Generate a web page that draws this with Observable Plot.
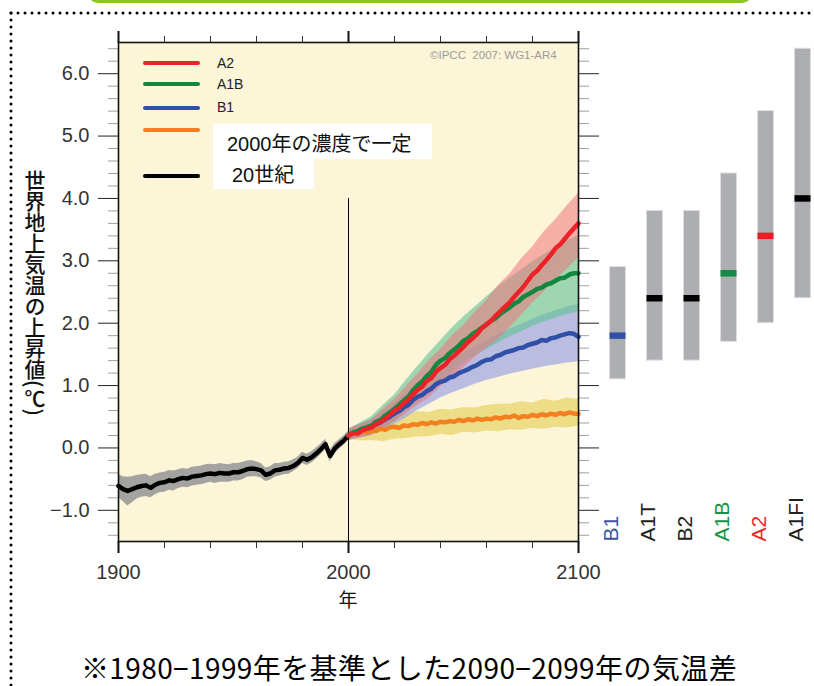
<!DOCTYPE html>
<html>
<head>
<meta charset="utf-8">
<script src="https://cdn.jsdelivr.net/npm/d3@7"></script>
<script src="https://cdn.jsdelivr.net/npm/@observablehq/plot@0.6"></script>
<style>
html, body { margin: 0; padding: 0; background: #fff; overflow: hidden; }
#root { position: relative; width: 814px; height: 686px; overflow: hidden; background: #fff;
  font-family: "Liberation Sans", Arial, "Noto Sans CJK JP", sans-serif; }
.abs { position: absolute; }
.sw { position: absolute; height: 4px; border-radius: 2px; }
.lg { position: absolute; font-size: 14px; line-height: 16px; color: #222; }
</style>
</head>
<body>
<div id="root"></div>
<script>
// ---------- data ----------
// 20th century (2-year steps): mean and spread
const years20 = d3.range(1900, 2001, 2);
const mean20 = [-0.61,-0.66,-0.69,-0.66,-0.63,-0.61,-0.60,-0.64,-0.59,-0.56,-0.55,-0.52,-0.53,-0.50,-0.48,-0.49,-0.46,-0.45,-0.44,-0.42,-0.41,-0.42,-0.40,-0.41,-0.41,-0.39,-0.39,-0.37,-0.34,-0.33,-0.34,-0.36,-0.43,-0.41,-0.36,-0.35,-0.33,-0.32,-0.29,-0.24,-0.16,-0.19,-0.15,-0.09,-0.02,0.06,-0.13,-0.01,0.06,0.12,0.20];
const low20  = [-0.80,-0.86,-0.93,-0.88,-0.82,-0.79,-0.78,-0.80,-0.75,-0.72,-0.71,-0.68,-0.69,-0.65,-0.63,-0.64,-0.61,-0.60,-0.59,-0.57,-0.55,-0.57,-0.55,-0.55,-0.55,-0.53,-0.53,-0.51,-0.47,-0.46,-0.46,-0.48,-0.54,-0.52,-0.47,-0.45,-0.43,-0.42,-0.38,-0.33,-0.25,-0.28,-0.24,-0.18,-0.11,-0.03,-0.22,-0.09,-0.02,0.04,0.13];
const high20 = [-0.42,-0.46,-0.47,-0.46,-0.44,-0.43,-0.42,-0.46,-0.42,-0.40,-0.39,-0.36,-0.37,-0.35,-0.33,-0.34,-0.31,-0.30,-0.29,-0.27,-0.26,-0.27,-0.25,-0.26,-0.27,-0.25,-0.25,-0.23,-0.21,-0.20,-0.22,-0.25,-0.32,-0.30,-0.25,-0.25,-0.23,-0.22,-0.19,-0.15,-0.07,-0.10,-0.06,0.00,0.06,0.14,-0.04,0.07,0.13,0.19,0.27];

// scenario mean lines (2-year steps, 2000-2100)
const yearsLine = d3.range(2000, 2101, 2);
const lineA2     = [0.20,0.24,0.23,0.28,0.31,0.33,0.38,0.42,0.47,0.53,0.60,0.64,0.72,0.77,0.86,0.93,0.98,1.07,1.12,1.22,1.28,1.33,1.42,1.48,1.55,1.62,1.70,1.76,1.83,1.92,1.98,2.04,2.12,2.19,2.26,2.33,2.42,2.50,2.58,2.68,2.78,2.84,2.93,3.01,3.10,3.20,3.26,3.35,3.44,3.52,3.60];
const lineA1B    = [0.20,0.25,0.27,0.31,0.33,0.36,0.42,0.45,0.52,0.57,0.63,0.69,0.76,0.82,0.92,1.00,1.06,1.15,1.22,1.33,1.40,1.44,1.52,1.58,1.64,1.72,1.76,1.83,1.87,1.93,1.98,2.04,2.08,2.15,2.20,2.25,2.31,2.35,2.42,2.46,2.50,2.55,2.57,2.62,2.64,2.68,2.72,2.73,2.78,2.80,2.80];
const lineB1     = [0.20,0.24,0.25,0.30,0.31,0.33,0.38,0.41,0.46,0.50,0.55,0.59,0.65,0.69,0.77,0.82,0.85,0.91,0.95,1.02,1.06,1.08,1.13,1.15,1.20,1.23,1.26,1.30,1.33,1.38,1.41,1.42,1.47,1.49,1.53,1.55,1.57,1.60,1.61,1.65,1.67,1.69,1.73,1.72,1.76,1.77,1.80,1.82,1.84,1.83,1.78];
const lineCommit = [0.20,0.24,0.22,0.27,0.25,0.28,0.27,0.31,0.29,0.33,0.34,0.32,0.36,0.35,0.38,0.37,0.40,0.38,0.41,0.39,0.42,0.41,0.43,0.42,0.45,0.43,0.46,0.44,0.47,0.45,0.47,0.46,0.49,0.47,0.50,0.49,0.52,0.48,0.51,0.50,0.53,0.51,0.54,0.52,0.55,0.53,0.56,0.54,0.57,0.55,0.55];

// scenario spread (5-year steps)
const yearsBand = d3.range(2000, 2101, 5);
const lowA2      = [0.12,0.16,0.20,0.30,0.42,0.55,0.68,0.80,0.98,1.12,1.28,1.45,1.60,1.74,1.92,2.12,2.32,2.50,2.70,2.86,3.05];
const highA2     = [0.30,0.37,0.45,0.62,0.78,0.98,1.18,1.40,1.58,1.80,1.96,2.18,2.36,2.60,2.78,3.02,3.22,3.46,3.66,3.88,4.08];
const lowA1B     = [0.12,0.17,0.22,0.31,0.42,0.58,0.72,0.88,1.05,1.20,1.35,1.48,1.58,1.68,1.78,1.86,1.95,2.02,2.08,2.14,2.18];
const highA1B    = [0.30,0.40,0.50,0.68,0.85,1.08,1.30,1.52,1.72,1.92,2.10,2.26,2.42,2.58,2.72,2.85,2.98,3.10,3.20,3.32,3.40];
const lowB1      = [0.12,0.16,0.20,0.28,0.38,0.48,0.60,0.70,0.80,0.88,0.95,1.02,1.08,1.13,1.18,1.22,1.26,1.30,1.33,1.36,1.38];
const highB1     = [0.30,0.38,0.46,0.58,0.72,0.88,1.05,1.20,1.32,1.42,1.52,1.62,1.72,1.82,1.90,1.98,2.06,2.14,2.20,2.26,2.30];
const lowCommit  = [0.14,0.11,0.12,0.10,0.14,0.15,0.18,0.18,0.22,0.20,0.25,0.24,0.27,0.26,0.29,0.28,0.31,0.30,0.33,0.32,0.35];
const highCommit = [0.26,0.38,0.44,0.48,0.52,0.55,0.58,0.57,0.62,0.61,0.65,0.64,0.68,0.70,0.70,0.74,0.72,0.78,0.75,0.80,0.78];

// right panel: 2090-2099 best estimate and likely range
const scenNames = ["B1","A1T","B2","A1B","A2","A1FI"];
const scenBest  = [1.8, 2.4, 2.4, 2.8, 3.4, 4.0];
const scenLow   = [1.1, 1.4, 1.4, 1.7, 2.0, 2.4];
const scenHigh  = [2.9, 3.8, 3.8, 4.4, 5.4, 6.4];
const scenMarkColor  = ["#3150a6","#000000","#000000","#138a45","#ed1c24","#000000"];
const scenLabelColor = ["#3a57a8","#222222","#222222","#169247","#ee2a2a","#222222"];

// ticks
const yMajor = [-1,0,1,2,3,4,5,6];
const yMinor = [-1.4,-1.2,-0.8,-0.6,-0.4,-0.2,0.2,0.4,0.6,0.8,1.2,1.4,1.6,1.8,2.2,2.4,2.6,2.8,3.2,3.4,3.6,3.8,4.2,4.4,4.6,4.8,5.2,5.4,5.6,5.8,6.2,6.4];
const xMajor = [1900, 2000, 2100];
const xMinor = [1920,1940,1960,1980,2020,2040,2060,2080];
const divider = [2000];
const dividerTop = 4.0;

// ---------- build ----------
const d20 = years20.map((y,i) => ({year: y, mean: mean20[i], low: low20[i], high: high20[i]}));
const band = (lo, hi) => yearsBand.map((y,i) => ({year: y, low: lo[i], high: hi[i]}));
const line = (vals) => yearsLine.map((y,i) => ({year: y, v: vals[i]}));
const scenData = scenNames.map((n,i) => ({name: n, best: scenBest[i], low: scenLow[i], high: scenHigh[i], mc: scenMarkColor[i], lc: scenLabelColor[i]}));

const yDomain = [-1.5, 6.5];
const blank = () => "";

const main = Plot.plot({
  width: 600, height: 620,
  marginLeft: 118, marginRight: 22, marginTop: 42, marginBottom: 79,
  x: {domain: [1900, 2100]},
  y: {domain: yDomain},
  style: {fontFamily: "Liberation Sans, Arial, sans-serif", fontSize: "20px", color: "#222", background: "transparent", overflow: "visible"},
  marks: [
    Plot.frame({fill: "#fdf5d7", stroke: "none"}),
    Plot.axisY(yMinor, {anchor: "left", tickSize: 10, stroke: "#a0a0a0", tickFormat: blank, label: null}),
    Plot.axisY(yMinor, {anchor: "right", tickSize: 10, stroke: "#a0a0a0", tickFormat: blank, label: null}),
    Plot.axisY(yMajor, {anchor: "left", tickSize: 20, tickPadding: 9, stroke: "#222", fill: "#333", tickFormat: d3.format(".1f"), label: null}),
    Plot.axisY(yMajor, {anchor: "right", tickSize: 20, stroke: "#222", tickFormat: blank, label: null}),
    Plot.axisX(xMinor, {anchor: "bottom", tickSize: 7, stroke: "#333", tickFormat: blank, label: null}),
    Plot.axisX(xMinor, {anchor: "top", tickSize: 7, stroke: "#333", tickFormat: blank, label: null}),
    Plot.axisX(xMajor, {anchor: "bottom", tickSize: 12, tickPadding: 11, stroke: "#111", strokeWidth: 2, fill: "#333", tickFormat: d3.format("d"), label: null}),
    Plot.axisX(xMajor, {anchor: "top", tickSize: 12, stroke: "#111", strokeWidth: 2, tickFormat: blank, label: null}),
    // spreads
    Plot.areaY(d20, {x: "year", y1: "low", y2: "high", fill: "#9a9a9a", fillOpacity: 0.9}),
    Plot.areaY(band(lowCommit, highCommit), {x: "year", y1: "low", y2: "high", fill: "#e3cf55", fillOpacity: 0.62}),
    Plot.areaY(band(lowB1, highB1), {x: "year", y1: "low", y2: "high", fill: "#a3aae2", fillOpacity: 0.75}),
    Plot.areaY(band(lowA1B, highA1B), {x: "year", y1: "low", y2: "high", fill: "#5fc295", fillOpacity: 0.6}),
    Plot.areaY(band(lowA2, highA2), {x: "year", y1: "low", y2: "high", fill: "#ee7580", fillOpacity: 0.55}),
    // divider
    Plot.ruleX(divider, {y1: dividerTop, y2: yDomain[0], stroke: "#000", strokeWidth: 1}),
    // lines
    Plot.lineY(d20, {x: "year", y: "mean", stroke: "#000", strokeWidth: 4.5}),
    Plot.lineY(line(lineCommit), {x: "year", y: "v", stroke: "#f47f20", strokeWidth: 4.5}),
    Plot.lineY(line(lineB1), {x: "year", y: "v", stroke: "#3050a8", strokeWidth: 4.5}),
    Plot.lineY(line(lineA1B), {x: "year", y: "v", stroke: "#12873f", strokeWidth: 4.5}),
    Plot.lineY(line(lineA2), {x: "year", y: "v", stroke: "#ec2227", strokeWidth: 4.5}),
    Plot.frame({stroke: "#111", strokeWidth: 1.6})
  ]
});

const bars = Plot.plot({
  width: 222, height: 620,
  marginLeft: 0, marginRight: 0, marginTop: 42, marginBottom: 79,
  x: {type: "band", domain: scenNames, padding: 0, axis: null},
  y: {domain: yDomain, axis: null},
  color: {type: "identity"},
  style: {fontFamily: "Liberation Sans, Arial, sans-serif", background: "transparent", overflow: "visible"},
  marks: [
    Plot.barY(scenData, {x: "name", y1: "low", y2: "high", fill: "#adaeb2", stroke: "#dedede", strokeWidth: 1, insetLeft: 10.5, insetRight: 10.5}),
    Plot.tickY(scenData, {x: "name", y: "best", stroke: "mc", strokeWidth: 6.5, insetLeft: 10.5, insetRight: 10.5}),
    Plot.text(scenData, {x: "name", text: "name", fill: "lc", rotate: -90, textAnchor: "start", frameAnchor: "bottom", fontSize: 21})
  ]
});

const root = document.getElementById("root");
main.style.position = "absolute"; main.style.left = "0px"; main.style.top = "0px";
bars.style.position = "absolute"; bars.style.left = "599px"; bars.style.top = "0px";
root.appendChild(main);
root.appendChild(bars);

// decorations, legend, labels
root.insertAdjacentHTML("beforeend", `
<div class="abs" style="left:88px;top:-28px;width:664px;height:31px;box-sizing:border-box;border:4px solid #8fc31f;border-radius:10px;"></div>
<svg class="abs" style="left:0;top:0" width="814" height="686">
  <line x1="11" y1="13" x2="814" y2="13" stroke="#000" stroke-width="3" stroke-dasharray="0 7" stroke-linecap="round"/>
  <line x1="11" y1="13" x2="11" y2="686" stroke="#000" stroke-width="3" stroke-dasharray="0 7" stroke-linecap="round"/>
</svg>
<div class="abs" style="left:430px;top:48px;font-size:11.5px;color:#9b9b9b;white-space:pre;line-height:14px">©IPCC  2007: WG1-AR4</div>
<div class="sw" style="left:143px;top:61px;width:57px;background:#ec2227"></div>
<div class="sw" style="left:143px;top:82px;width:57px;background:#12873f"></div>
<div class="sw" style="left:143px;top:106px;width:57px;background:#3050a8"></div>
<div class="sw" style="left:143px;top:128px;width:57px;background:#f47f20"></div>
<div class="sw" style="left:143px;top:174px;width:57px;background:#000"></div>
<div class="lg" style="left:217px;top:55px">A2</div>
<div class="lg" style="left:217px;top:76px">A1B</div>
<div class="lg" style="left:217px;top:99px">B1</div>
<div class="abs" style="left:213px;top:157px;width:101px;height:32px;background:#fff"></div>
<div class="abs" style="left:213px;top:124px;width:219px;height:35px;background:#fff"></div>
<div class="abs" style="left:227px;top:130px;font-size:20px;line-height:28px;color:#111;white-space:nowrap;font-family:'Liberation Sans','Noto Sans CJK JP',sans-serif">2000年の濃度で一定</div>
<div class="abs" style="left:232px;top:161px;font-size:20px;line-height:28px;color:#111;white-space:nowrap;font-family:'Liberation Sans','Noto Sans CJK JP',sans-serif">20世紀</div>
<div class="abs" style="left:24px;top:170px;writing-mode:vertical-rl;font-family:'Noto Sans CJK JP',sans-serif;font-size:21px;line-height:22px;color:#111;font-weight:500">世界地上気温の上昇値(℃)</div>
<div class="abs" style="left:337px;top:588px;width:22px;text-align:center;font-family:'Noto Sans CJK JP',sans-serif;font-size:19px;line-height:22px;color:#111">年</div>
<div class="abs" style="left:0;top:650px;width:818px;text-align:center;font-family:'Noto Sans CJK JP',sans-serif;font-size:28px;letter-spacing:0.4px;line-height:34px;color:#000;white-space:nowrap">※1980−1999年を基準とした2090−2099年の気温差</div>
`);
</script>
</body>
</html>
